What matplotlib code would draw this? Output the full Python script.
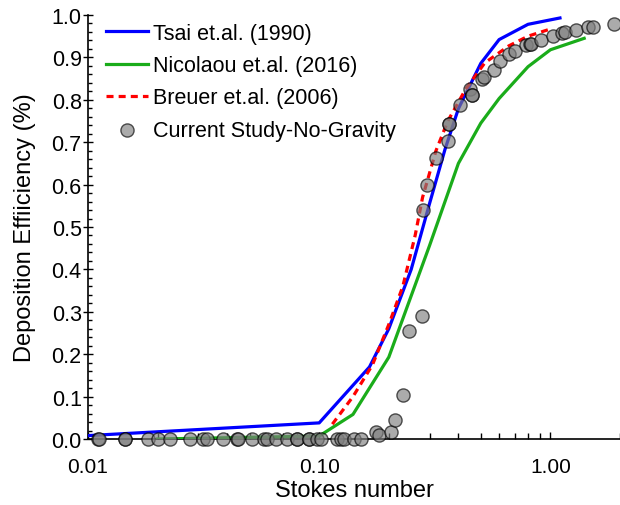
import matplotlib.pyplot as plt
from matplotlib.ticker import FixedLocator, LogLocator, NullFormatter, FormatStrFormatter

plt.rcParams["font.family"] = ["Liberation Sans", "DejaVu Sans"]

# Tsai et.al. (1990)
tsai_stk = [0.01, 0.1, 0.165, 0.2, 0.25, 0.3, 0.35, 0.4, 0.5, 0.6, 0.8, 1.1]
tsai_eff = [0.008, 0.038, 0.17, 0.26, 0.40, 0.555, 0.683, 0.779, 0.886, 0.942, 0.978, 0.993]

# Nicolaou et.al. (2016)
nico_stk = [0.02, 0.1, 0.14, 0.2, 0.3, 0.4, 0.5, 0.6, 0.8, 1.0, 1.4]
nico_eff = [0.0, 0.007, 0.058, 0.193, 0.456, 0.65, 0.745, 0.803, 0.878, 0.918, 0.945]

# Breuer et.al. (2006)
breuer_stk = [0.114, 0.14, 0.17, 0.2, 0.23, 0.26, 0.28, 0.32, 0.36, 0.43, 0.52, 0.66, 0.8, 1.0]
breuer_eff = [0.035, 0.10, 0.175, 0.27, 0.36, 0.48, 0.57, 0.68, 0.75, 0.825, 0.887, 0.927, 0.95, 0.967]

# Current Study-No-Gravity
study_stk = [0.0111, 0.0112, 0.0144, 0.0145, 0.0181, 0.0200, 0.0226, 0.0275, 0.0313, 0.0326,
             0.0382, 0.0443, 0.0444, 0.0514, 0.0579, 0.0597, 0.0653, 0.0728, 0.0804, 0.0805,
             0.0905, 0.0906, 0.098, 0.102, 0.1197, 0.124, 0.128, 0.141, 0.152,
             0.176, 0.181, 0.204, 0.212, 0.230, 0.244, 0.278,
             0.2806, 0.292, 0.319, 0.360, 0.363, 0.364, 0.405, 0.448, 0.456, 0.458,
             0.504, 0.515, 0.568, 0.608, 0.665, 0.706, 0.788, 0.820, 0.822, 0.915,
             1.03, 1.127, 1.16, 1.295, 1.46, 1.53, 1.89]
study_eff = [0.0, 0.0, 0.0, 0.0, 0.0, 0.0, 0.0, 0.0, 0.0, 0.0,
             0.0, 0.0, 0.0, 0.0, 0.0, 0.0, 0.0, 0.0, 0.0, 0.0,
             0.0, 0.0, 0.0, 0.0, 0.0, 0.0, 0.0, 0.0, 0.0,
             0.0165, 0.009, 0.0165, 0.045, 0.104, 0.255, 0.29,
             0.540, 0.599, 0.663, 0.703, 0.743, 0.742, 0.788, 0.825, 0.811, 0.812,
             0.849, 0.854, 0.870, 0.892, 0.908, 0.915, 0.929, 0.932, 0.931, 0.941,
             0.950, 0.958, 0.960, 0.965, 0.972, 0.972, 0.979]

fig = plt.figure(figsize=(6.2, 5.06), dpi=100)
ax = fig.add_axes([88 / 620, 66 / 506, 532 / 620, 424 / 506])

ax.plot(tsai_stk, tsai_eff, color="#0000ff", lw=2.3, label="Tsai et.al. (1990)", zorder=3)
ax.plot(nico_stk, nico_eff, color="#1aac1a", lw=2.3, label="Nicolaou et.al. (2016)", zorder=3)
ax.plot(breuer_stk, breuer_eff, color="#ff0000", lw=2.3, ls=(0, (2.2, 1.6)),
        label="Breuer et.al. (2006)", zorder=4)
ax.scatter(study_stk, study_eff, s=90, facecolor="#7f7f7f", edgecolor="black",
           linewidths=1.0, alpha=0.65, label="Current Study-No-Gravity", zorder=5,
           clip_on=False)

ax.set_xscale("log")
ax.set_xlim(0.01, 2)
ax.set_ylim(0, 1.0)

ax.xaxis.set_major_locator(FixedLocator([0.01, 0.1, 1.0]))
ax.xaxis.set_major_formatter(FormatStrFormatter("%.2f"))
ax.xaxis.set_minor_locator(LogLocator(base=10, subs=range(2, 10)))
ax.xaxis.set_minor_formatter(NullFormatter())
ax.yaxis.set_major_locator(FixedLocator([i / 10 for i in range(11)]))
ax.yaxis.set_major_formatter(FormatStrFormatter("%.1f"))
ax.yaxis.set_minor_locator(FixedLocator([i / 50 for i in range(51)]))

ax.tick_params(axis="y", which="major", direction="inout", length=7, width=1,
               labelsize=15.5, pad=1)
ax.tick_params(axis="y", which="minor", direction="in", length=3, width=1)
ax.tick_params(axis="x", which="major", direction="in", length=5, width=1,
               labelsize=15, pad=13)
ax.tick_params(axis="x", which="minor", direction="in", length=4, width=1)

for side in ["top", "right"]:
    ax.spines[side].set_visible(False)
for side in ["left", "bottom"]:
    ax.spines[side].set_linewidth(1.2)

ax.set_xlabel("Stokes number", fontsize=17, labelpad=2)
ax.set_ylabel("Deposition Effiiciency (%)", fontsize=17, labelpad=11)

ax.legend(loc="upper left", bbox_to_anchor=(106 / 620, 1 - 24 / 506),
          bbox_transform=fig.transFigure, frameon=False, fontsize=15.5,
          handlelength=1.95, handletextpad=0.25, labelspacing=0.52,
          borderpad=0, borderaxespad=0)

fig.savefig("out.png", dpi=100)
